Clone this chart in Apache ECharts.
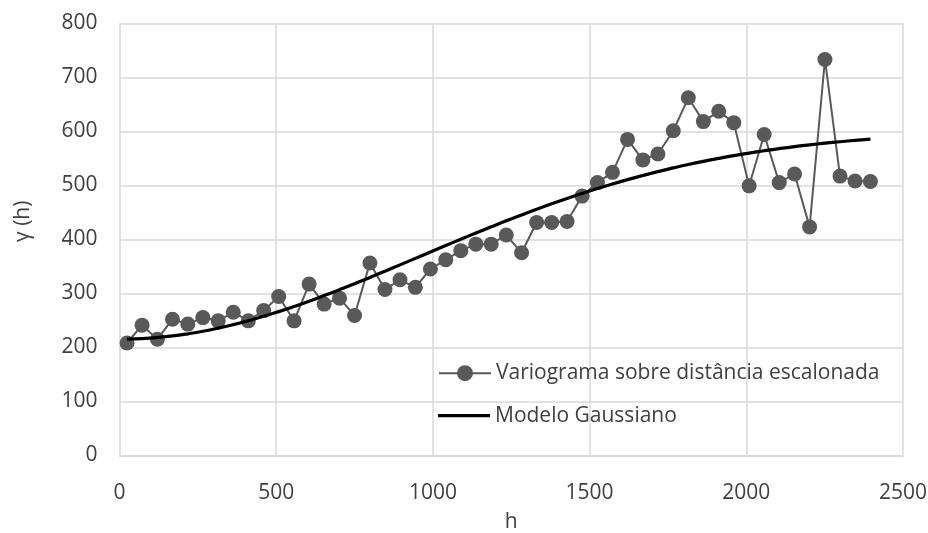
<!DOCTYPE html>
<html>
<head>
<meta charset="utf-8">
<script src="https://cdn.jsdelivr.net/npm/echarts@6/dist/echarts.min.js"></script>
<style>
html,body{margin:0;padding:0;background:#fff;}
#chart{width:928px;height:533px;}
</style>
</head>
<body>
<div id="chart"></div>
<script>
// lag distances h
var lags = [24, 72, 121, 169, 218, 266, 315, 363, 411, 460, 508, 557, 605, 653, 702, 750, 799, 847, 895, 944,
  992, 1041, 1089, 1137, 1186, 1234, 1283, 1331, 1379, 1428, 1476, 1525, 1573, 1621, 1670, 1718, 1767, 1815, 1863, 1912,
  1960, 2009, 2057, 2105, 2154, 2202, 2251, 2299, 2347, 2396];
// experimental variogram values
var variogramValues = [208, 241, 215, 252, 243, 255, 249, 265, 249, 268, 294, 249, 317, 280, 291, 259, 356, 307, 325, 311,
  345, 362, 379, 391, 391, 408, 375, 431, 431, 433, 480, 505, 524, 585, 547, 558, 601, 662, 618, 637,
  616, 499, 594, 505, 521, 423, 733, 517, 508, 507];
// Gaussian model values
var modelValues = [215.1, 216.1, 218.1, 221.0, 225.0, 229.7, 235.5, 242.0, 249.3, 257.4, 266.1, 275.6, 285.4, 295.8, 306.7, 317.7, 329.4, 340.9, 352.6, 364.7,
  376.5, 388.5, 400.1, 411.6, 423.1, 434.2, 445.1, 455.6, 465.7, 475.6, 484.9, 494.0, 502.5, 510.5, 518.2, 525.4, 532.2, 538.5, 544.4, 549.9,
  555.0, 559.7, 564.0, 568.0, 571.7, 574.9, 578.0, 580.7, 583.2, 585.4];
var seriesNames = ['Variograma sobre distância escalonada', 'Modelo Gaussiano'];
var xTitle = 'h';
var yTitle = 'γ (h)';

function pairs(xs, ys){ return xs.map(function(x,i){ return [x, ys[i]]; }); }

var FONT = 'Open Sans';
var FS = 21;
var TXT = '#404040';
var chart = echarts.init(document.getElementById('chart'), null, {renderer:'canvas'});
chart.setOption({
  animation: false,
  backgroundColor: '#fff',
  textStyle: {fontFamily: FONT},
  grid: {left: 119.5, right: 25, top: 23.3, bottom: 77.7, containLabel: false, outerBoundsMode: 'none'},
  legend: [
    {
      orient: 'vertical', selectedMode: false,
      left: 433, top: 357.7, padding: 5,
      itemWidth: 52, itemHeight: 20,
      textStyle: {fontFamily: FONT, fontSize: FS, color: TXT},
      data: [seriesNames[0]]
    },
    {
      orient: 'vertical', selectedMode: false,
      left: 433, top: 400.2, padding: 5,
      itemWidth: 52, itemHeight: 3.2,
      icon: 'rect',
      itemStyle: {color: '#000'},
      textStyle: {fontFamily: FONT, fontSize: FS, color: TXT},
      data: [seriesNames[1]]
    }
  ],
  xAxis: {
    type: 'value', min: 0, max: 2500, interval: 500,
    name: xTitle, nameLocation: 'middle', nameGap: 56,
    nameTextStyle: {fontFamily: FONT, fontSize: FS, color: TXT},
    axisLine: {show: true, lineStyle: {color: '#d9d9d9', width: 1.5}},
    axisTick: {show: false},
    axisLabel: {fontFamily: FONT, fontSize: FS, color: TXT, margin: 27,
      formatter: function(v){ return String(v); }},
    splitLine: {show: true, lineStyle: {color: '#d9d9d9', width: 1.5}}
  },
  yAxis: {
    type: 'value', min: 0, max: 800, interval: 100,
    name: yTitle, nameLocation: 'middle', nameGap: 86, nameRotate: 90,
    nameTextStyle: {fontFamily: FONT, fontSize: FS, color: TXT, padding: [0, 0, 0, 36]},
    axisLine: {show: false},
    axisTick: {show: false},
    axisLabel: {fontFamily: FONT, fontSize: FS, color: TXT, margin: 22,
      formatter: function(v){ return String(v); }},
    splitLine: {show: true, lineStyle: {color: '#d9d9d9', width: 1.5}}
  },
  series: [
    {
      name: seriesNames[0], type: 'line', data: pairs(lags, variogramValues),
      symbol: 'circle', symbolSize: 15,
      lineStyle: {color: '#595959', width: 2},
      itemStyle: {color: '#595959', borderWidth: 0},
      z: 2
    },
    {
      name: seriesNames[1], type: 'line', data: pairs(lags, modelValues),
      smooth: true, showSymbol: false, symbol: 'none',
      lineStyle: {color: '#000', width: 3.2},
      itemStyle: {color: '#000'},
      z: 3
    }
  ]
});
</script>
</body>
</html>
